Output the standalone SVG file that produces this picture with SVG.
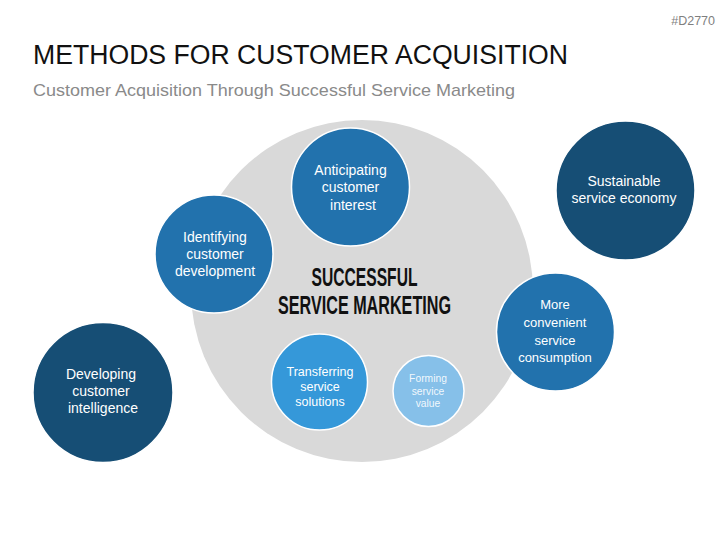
<svg xmlns="http://www.w3.org/2000/svg" width="727" height="545" viewBox="0 0 727 545">
<style>
.t{font-family:"Liberation Sans",Arial,sans-serif;fill:#ffffff;text-anchor:middle;}
.c{stroke:#ffffff;stroke-width:1.5;}
.dark{fill:#164e75;}
.mid{fill:#2272ad;}
.bright{fill:#3598d9;}
.light{fill:#86c0e9;}
.ctr{font-family:"Liberation Sans",Arial,sans-serif;font-weight:bold;fill:#111111;}
</style>
<rect width="727" height="545" fill="#ffffff"/>
<text x="715" y="25" font-family="Liberation Sans, Arial, sans-serif" font-size="12.5" fill="#7f7f7f" text-anchor="end">#D2770</text>
<text x="33" y="64" font-family="Liberation Sans, Arial, sans-serif" font-size="27" fill="#111111" textLength="535" lengthAdjust="spacingAndGlyphs">METHODS FOR CUSTOMER ACQUISITION</text>
<text x="33" y="96" font-family="Liberation Sans, Arial, sans-serif" font-size="17" fill="#8a8a8a" textLength="482" lengthAdjust="spacingAndGlyphs">Customer Acquisition Through Successful Service Marketing</text>

<g id="hub">
<circle cx="362" cy="291" r="171" fill="#d9d9d9"/>
<text class="ctr" x="364.5" y="286" font-size="26.5" text-anchor="middle" textLength="106" lengthAdjust="spacingAndGlyphs">SUCCESSFUL</text>
<text class="ctr" x="364.5" y="314" font-size="26.5" text-anchor="middle" textLength="173" lengthAdjust="spacingAndGlyphs">SERVICE MARKETING</text>
</g>

<g id="anticipating">
<circle class="c mid" cx="350.5" cy="187" r="59"/>
<text class="t" font-size="14"><tspan x="350.5" y="175">Anticipating</tspan><tspan x="350.5" y="192">customer</tspan><tspan x="353" y="210">interest</tspan></text>
</g>

<g id="identifying">
<circle class="c mid" cx="214" cy="254" r="59"/>
<text class="t" font-size="14"><tspan x="215" y="242">Identifying</tspan><tspan x="215" y="259">customer</tspan><tspan x="215" y="276">development</tspan></text>
</g>

<g id="transferring">
<circle class="c bright" cx="319.5" cy="382" r="48"/>
<text class="t" font-size="12.5"><tspan x="320" y="376">Transferring</tspan><tspan x="320" y="391">service</tspan><tspan x="320" y="406">solutions</tspan></text>
</g>

<g id="forming">
<circle class="c light" cx="428.5" cy="391" r="35.5"/>
<text class="t" font-size="10.3" fill-opacity="0.9"><tspan x="428" y="382">Forming</tspan><tspan x="428" y="394.5">service</tspan><tspan x="428" y="407">value</tspan></text>
</g>

<g id="developing">
<circle class="c dark" cx="103" cy="392.5" r="70"/>
<text class="t" font-size="14"><tspan x="101" y="379">Developing</tspan><tspan x="101" y="396">customer</tspan><tspan x="103" y="413">intelligence</tspan></text>
</g>

<g id="sustainable">
<circle class="c dark" cx="625.5" cy="190.5" r="69.5"/>
<text class="t" font-size="14"><tspan x="624" y="186">Sustainable</tspan><tspan x="624" y="203">service economy</tspan></text>
</g>

<g id="convenient">
<circle class="c mid" cx="555.5" cy="332" r="59"/>
<text class="t" font-size="13" x="555" y="308.5">More</text>
<text class="t" font-size="13" x="555" y="326.5">convenient</text>
<text class="t" font-size="13" x="555" y="344.5">service</text>
<text class="t" font-size="13" x="555" y="362">consumption</text>
</g>

<g id="connectors"></g>
</svg>
